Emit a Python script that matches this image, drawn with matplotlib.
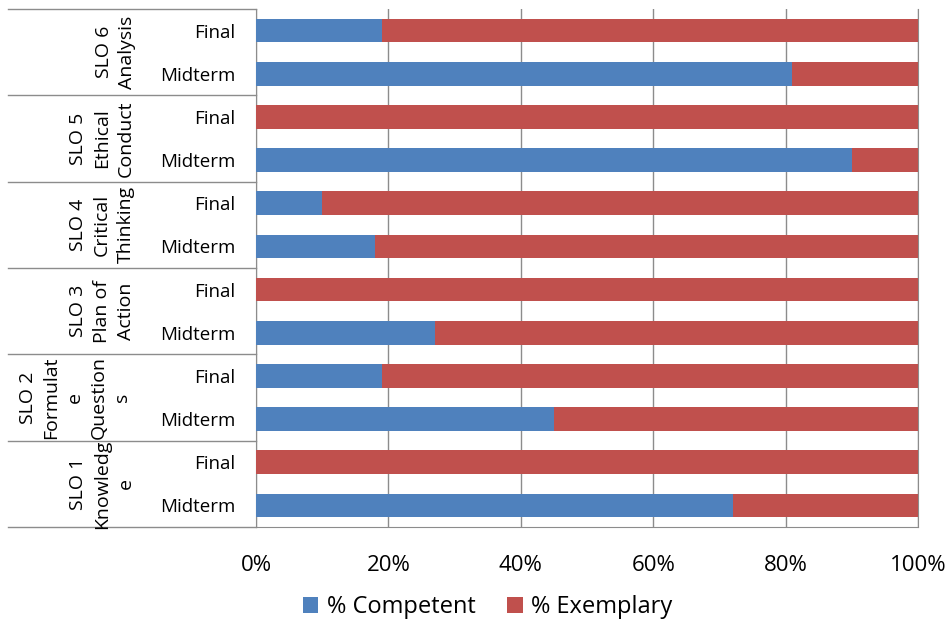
import numpy as np
import matplotlib
matplotlib.use('Agg')
import matplotlib.pyplot as plt

plt.rcParams['font.family'] = ['Open Sans', 'DejaVu Sans']

# outcome groups, bottom to top
groups = ['SLO 1\nKnowledg\ne', 'SLO 2\nFormulat\ne\nQuestion\ns', 'SLO 3\nPlan of\nAction',
          'SLO 4\nCritical\nThinking', 'SLO 5\nEthical\nConduct', 'SLO 6\nAnalysis']
terms = ['Midterm', 'Final']

# percent competent per group: [Midterm, Final]
competent = [[72, 0], [45, 19], [27, 0], [18, 10], [90, 0], [81, 19]]
exemplary = [[100 - m, 100 - f] for m, f in competent]

blue = '#4F81BD'
red = '#C0504D'
grid_col = '#8C8C8C'

fig = plt.figure(figsize=(9.53, 6.23), dpi=100)
ax = fig.add_axes([256 / 953, 1 - 527 / 623, 662 / 953, 518 / 623])

comp = np.array(competent).ravel()
exem = np.array(exemplary).ravel()
ypos = np.arange(len(comp))
labels = terms * len(groups)

ax.barh(ypos, comp, height=0.55, color=blue, label='% Competent', zorder=3)
ax.barh(ypos, exem, left=comp, height=0.55, color=red, label='% Exemplary', zorder=3)

ax.set_xlim(0, 100)
ax.set_ylim(-0.5, len(comp) - 0.5)
ax.set_xticks(np.arange(0, 101, 20))
ax.set_xticklabels([f'{v}%' for v in range(0, 101, 20)], fontsize=16)
ax.set_yticks(ypos)
ax.set_yticklabels(labels, fontsize=13.5)
ax.tick_params(axis='y', length=0, pad=15)
ax.tick_params(axis='x', length=0, pad=20)

ax.grid(axis='x', color=grid_col, linewidth=1, zorder=0)
ax.spines['top'].set_visible(False)
for side in ['right', 'left', 'bottom']:
    ax.spines[side].set_color(grid_col)

# group separators across the label column
trans = ax.get_yaxis_transform()
x0 = (8 - 256) / 662
for b in np.arange(-0.5, len(comp), 2):
    ax.plot([x0, 0], [b, b], color=grid_col, linewidth=1, transform=trans, clip_on=False)

# rotated group names, last line kept at the same column
for i, g in enumerate(groups):
    n = g.count('\n') + 1
    xc = 129 - (n - 1) * 13.5
    ax.text((xc - 256) / 662, 2 * i + 0.5, g, rotation=90, ha='center', va='center',
            multialignment='center', fontsize=14, transform=trans, linespacing=1.4)

fig.legend(loc='center', bbox_to_anchor=(487.5 / 953, 1 - 607 / 623), ncol=2, frameon=False,
           fontsize=17, handlelength=0.65, handleheight=0.65, handletextpad=0.35,
           columnspacing=1.35)

fig.savefig('out.png', dpi=100)
